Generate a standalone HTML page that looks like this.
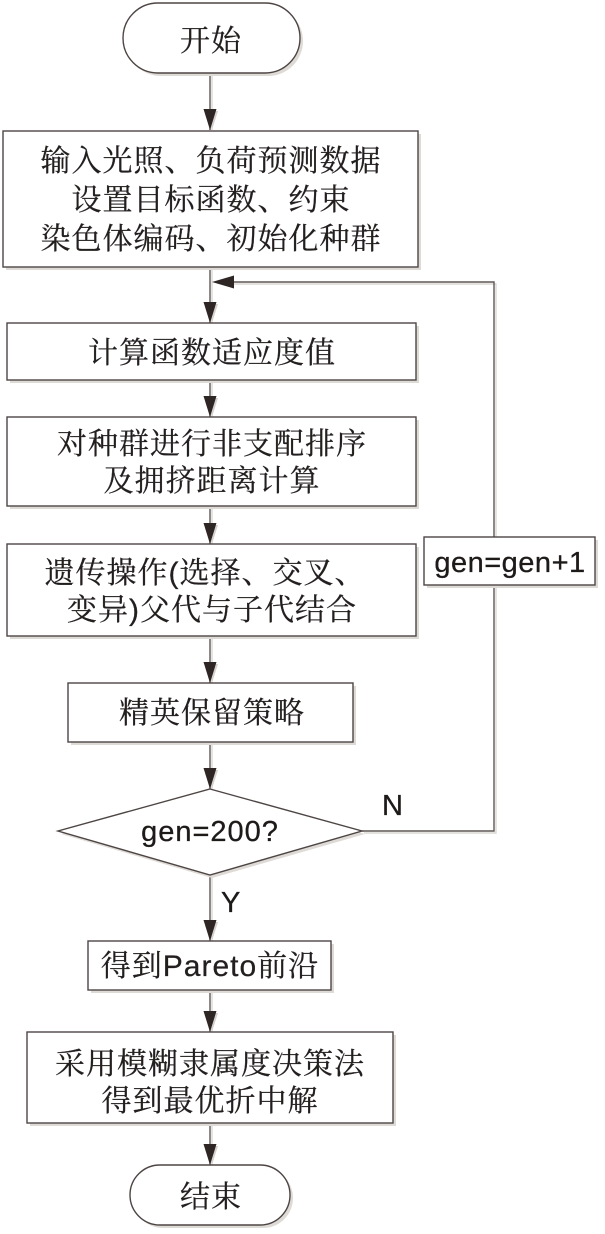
<!DOCTYPE html>
<html>
<head>
<meta charset="utf-8">
<style>
  html, body { margin: 0; padding: 0; background: #ffffff; }
  body { width: 605px; height: 1234px; overflow: hidden; }
  svg { display: block; }
  .cn { font-family: "Liberation Sans", "Noto Serif CJK SC", "Noto Sans CJK SC", serif; font-size: 30px; fill: #231f1e; stroke: #231f1e; stroke-width: 0.25; letter-spacing: 1px; }
  .en { font-family: "Liberation Sans", "Noto Sans CJK SC", sans-serif; font-size: 29px; fill: #1e1a19; stroke: #1e1a19; stroke-width: 0.3; }
  .box { fill: #ffffff; stroke: #4d4544; stroke-width: 1.4; }
  .sh { fill: #dedad6; stroke: none; }
  .ln { stroke: #5e5655; stroke-width: 1.4; fill: none; }
  .lns { stroke: #dcd8d4; stroke-width: 1.4; fill: none; }
  .ah { fill: #2e2624; stroke: none; }
  .ahs { fill: #d6d2ce; stroke: none; }
</style>
</head>
<body>
<svg width="605" height="1234" viewBox="0 0 605 1234" xmlns="http://www.w3.org/2000/svg">

  <!-- connector shadows -->
  <g class="lns">
    <line x1="212" y1="73" x2="212" y2="130"/>
    <line x1="212" y1="267" x2="212" y2="323"/>
    <line x1="212" y1="380" x2="212" y2="417"/>
    <line x1="212" y1="506" x2="212" y2="544"/>
    <line x1="212" y1="636" x2="212" y2="683"/>
    <line x1="212" y1="742" x2="212" y2="789"/>
    <line x1="212" y1="875" x2="212" y2="941"/>
    <line x1="212" y1="990" x2="212" y2="1032"/>
    <line x1="212" y1="1123" x2="212" y2="1165"/>
    <polyline points="364,833 496,833 496,284 232,284"/>
  </g>

  <!-- connectors -->
  <g class="ln">
    <line x1="210" y1="73" x2="210" y2="130"/>
    <line x1="210" y1="267" x2="210" y2="323"/>
    <line x1="210" y1="380" x2="210" y2="417"/>
    <line x1="210" y1="506" x2="210" y2="544"/>
    <line x1="210" y1="636" x2="210" y2="683"/>
    <line x1="210" y1="742" x2="210" y2="789"/>
    <line x1="210" y1="875" x2="210" y2="941"/>
    <line x1="210" y1="990" x2="210" y2="1032"/>
    <line x1="210" y1="1123" x2="210" y2="1165"/>
    <polyline points="362,831 494,831 494,282 230,282"/>
  </g>

  <!-- arrowhead shadows -->
  <g class="ahs">
    <polygon points="206,111 218,111 212,130"/>
    <polygon points="206,304 218,304 212,323"/>
    <polygon points="206,398 218,398 212,417"/>
    <polygon points="206,525 218,525 212,544"/>
    <polygon points="206,664 218,664 212,683"/>
    <polygon points="206,770 218,770 212,789"/>
    <polygon points="206,922 218,922 212,941"/>
    <polygon points="206,1013 218,1013 212,1032"/>
    <polygon points="206,1146 218,1146 212,1165"/>
  </g>

  <!-- arrowheads -->
  <g class="ah">
    <polygon points="203.5,109 216.5,109 210,130"/>
    <polygon points="203.5,302 216.5,302 210,323"/>
    <polygon points="203.5,396 216.5,396 210,417"/>
    <polygon points="203.5,523 216.5,523 210,544"/>
    <polygon points="203.5,662 216.5,662 210,683"/>
    <polygon points="203.5,768 216.5,768 210,789"/>
    <polygon points="203.5,920 216.5,920 210,941"/>
    <polygon points="203.5,1011 216.5,1011 210,1032"/>
    <polygon points="203.5,1144 216.5,1144 210,1165"/>
    <polygon points="212,282 234,275.5 234,288.5"/>
  </g>

  <!-- Start terminal -->
  <rect class="sh" x="126" y="6" width="177" height="70" rx="35" ry="35"/>
  <rect class="box" x="123" y="3" width="177" height="70" rx="35" ry="35"/>
  <text class="cn" x="211" y="51" text-anchor="middle">开始</text>

  <!-- Box 1 -->
  <rect class="sh" x="6" y="134" width="415" height="136"/>
  <rect class="box" x="3" y="131" width="415" height="136"/>
  <text class="cn" x="211" y="171" text-anchor="middle">输入光照、负荷预测数据</text>
  <text class="cn" x="211" y="210" text-anchor="middle">设置目标函数、约束</text>
  <text class="cn" x="211" y="249" text-anchor="middle">染色体编码、初始化种群</text>

  <!-- Box 2 -->
  <rect class="sh" x="10" y="326" width="409" height="57"/>
  <rect class="box" x="7" y="323" width="409" height="57"/>
  <text class="cn" x="212" y="363" text-anchor="middle">计算函数适应度值</text>

  <!-- Box 3 -->
  <rect class="sh" x="10" y="420" width="409" height="89"/>
  <rect class="box" x="7" y="417" width="409" height="89"/>
  <text class="cn" x="212" y="454" text-anchor="middle">对种群进行非支配排序</text>
  <text class="cn" x="212" y="491" text-anchor="middle">及拥挤距离计算</text>

  <!-- Box 4 -->
  <rect class="sh" x="10" y="547" width="409" height="92"/>
  <rect class="box" x="7" y="544" width="409" height="92"/>
  <text class="cn" x="205" y="583" text-anchor="middle">遗传操作(选择、交叉、</text>
  <text class="cn" x="212" y="620" text-anchor="middle">变异)父代与子代结合</text>

  <!-- gen=gen+1 box -->
  <rect class="sh" x="427" y="540" width="171" height="48"/>
  <rect class="box" x="424" y="537" width="171" height="48"/>
  <text class="en" x="510" y="572" text-anchor="middle" letter-spacing="0.5">gen=gen+1</text>

  <!-- Box 5 -->
  <rect class="sh" x="71" y="686" width="285" height="59"/>
  <rect class="box" x="68" y="683" width="285" height="59"/>
  <text class="cn" x="212" y="723" text-anchor="middle">精英保留策略</text>

  <!-- Diamond -->
  <polygon class="sh" points="212,792 365,834 212,878 61,834"/>
  <polygon class="box" points="210,789 362,831 210,875 58,831"/>
  <text class="en" x="210" y="841" text-anchor="middle" letter-spacing="1">gen=200?</text>

  <!-- N / Y labels -->
  <text class="en" x="382" y="815">N</text>
  <text class="en" x="221" y="912">Y</text>

  <!-- Box 6 -->
  <rect class="sh" x="91" y="944" width="243" height="49"/>
  <rect class="box" x="88" y="941" width="243" height="49"/>
  <text class="cn" x="210" y="976" text-anchor="middle" letter-spacing="0.5">得到Pareto前沿</text>

  <!-- Box 7 -->
  <rect class="sh" x="30" y="1035" width="366" height="91"/>
  <rect class="box" x="27" y="1032" width="366" height="91"/>
  <text class="cn" x="210" y="1074" text-anchor="middle">采用模糊隶属度决策法</text>
  <text class="cn" x="210" y="1111" text-anchor="middle">得到最优折中解</text>

  <!-- End terminal -->
  <rect class="sh" x="133" y="1168" width="160" height="60" rx="30" ry="30"/>
  <rect class="box" x="130" y="1165" width="160" height="60" rx="30" ry="30"/>
  <text class="cn" x="211" y="1207" text-anchor="middle">结束</text>

</svg>
</body>
</html>
